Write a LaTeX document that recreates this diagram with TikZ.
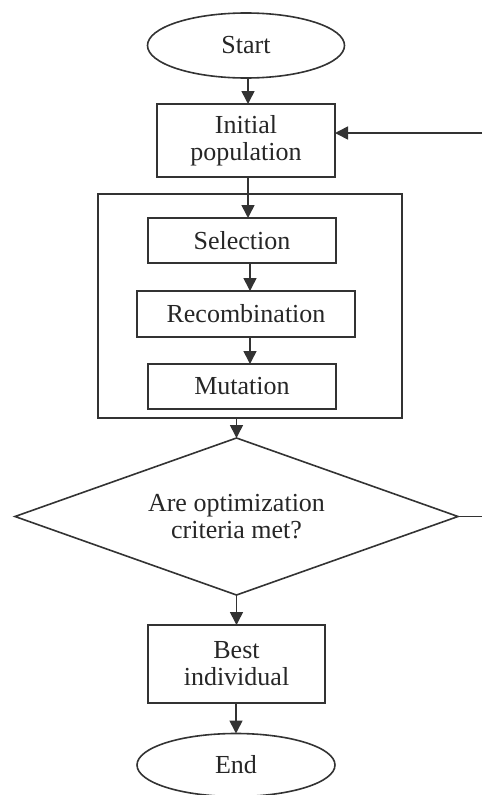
\documentclass[tikz,border=0pt]{standalone}
\usepackage{fontspec}
\setmainfont{Liberation Serif}
\usetikzlibrary{shapes.geometric,arrows.meta}
\begin{document}
\begin{tikzpicture}[x=1pt,y=-1pt,
  every node/.style={inner sep=0pt,outer sep=0pt,text=black!85,font=\fontsize{26}{27}\selectfont,align=center},
  ln/.style={draw=black!80,line width=1.6pt},
  boxnode/.style={ln,rectangle},
  ovalnode/.style={ln,ellipse},
  decision/.style={ln,diamond,shape aspect=2.82},
  arr/.style={draw=black!80,line width=1.6pt,-{Triangle[length=13pt,width=13pt]}},
  plain/.style={draw=black!80,line width=1.6pt}]
\useasboundingbox (0,0) rectangle (482,795);
\node[ovalnode,minimum width=197pt,minimum height=65pt] (start) at (246,45.5) {Start};
\node[boxnode,minimum width=178pt,minimum height=73pt] (init) at (246,140.5) {Initial\\population};
\node[boxnode,minimum width=304pt,minimum height=224pt] (loop) at (250,306) {};
\node[boxnode,minimum width=188pt,minimum height=45pt] (sel) at (242,240.5) {Selection};
\node[boxnode,minimum width=218pt,minimum height=46pt] (rec) at (246,314) {Recombination};
\node[boxnode,minimum width=188pt,minimum height=45pt] (mut) at (242,386.5) {Mutation};
\node[decision,minimum width=443pt,minimum height=157pt] (dia) at (236.5,516.5) {Are optimization\\criteria met?};
\node[boxnode,minimum width=177pt,minimum height=78pt] (best) at (236.5,664) {Best\\individual};
\node[ovalnode,minimum width=198pt,minimum height=63pt] (end) at (236,765) {End};
\coordinate (fb) at (482,133);
\coordinate (dout) at (482,516.5);
\draw[arr] (start.south -| 248,0) -- (init.north -| 248,0);
\draw[arr] (init.south -| 248,0) -- (sel.north -| 248,0);
\draw[arr] (sel.south -| loop) -- (rec.north -| loop);
\draw[arr] (rec.south -| loop) -- (mut.north -| loop);
\draw[arr] (loop.south -| dia) -- (dia.north);
\draw[arr] (dia.south) -- (best.north -| dia);
\draw[arr] (best.south -| end) -- (end.north);
\draw[arr] (fb) -- (fb -| init.east);
\draw[plain] (dia.east) -- (dout);
\end{tikzpicture}
\end{document}
